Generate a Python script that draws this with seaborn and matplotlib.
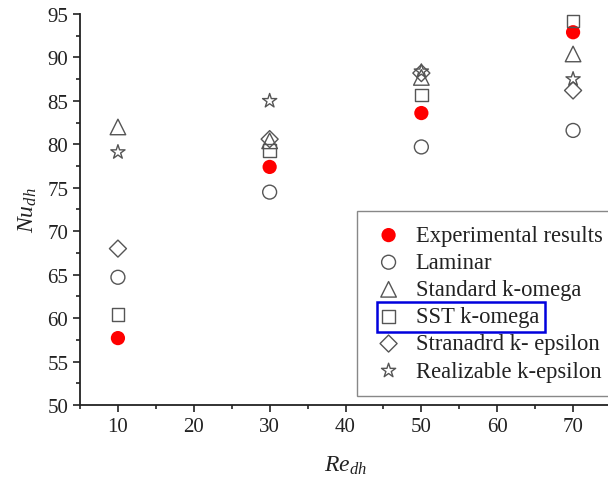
import matplotlib
matplotlib.use("Agg")
import matplotlib.pyplot as plt
import seaborn as sns
import pandas as pd
from matplotlib.patches import Rectangle
from matplotlib.ticker import MultipleLocator

re_dh = [10, 30, 50, 70]
experimental = [57.7, 77.4, 83.6, 92.9]
laminar = [64.7, 74.5, 79.7, 81.6]
standard_k_omega = [82.0, 80.4, 87.7, 90.4]
sst_k_omega = [60.4, 79.3, 85.7, 94.2]
standard_k_epsilon = [68.0, 80.6, 88.2, 86.2]
realizable_k_epsilon = [79.1, 85.0, 88.4, 87.5]

series_names = ["Experimental results", "Laminar", "Standard k-omega",
                "SST k-omega", "Stranadrd k- epsilon", "Realizable k-epsilon"]
series_values = [experimental, laminar, standard_k_omega, sst_k_omega,
                 standard_k_epsilon, realizable_k_epsilon]
markers = ["o", "o", "^", "s", "D", "*"]
sizes = [105, 100, 125, 80, 75, 115]

sns.set_style("ticks")
plt.rcParams['font.family'] = ['Liberation Serif', 'DejaVu Serif']
plt.rcParams['mathtext.fontset'] = 'custom'
plt.rcParams['mathtext.rm'] = 'Liberation Serif'
plt.rcParams['mathtext.it'] = 'Liberation Serif:italic'

fig = plt.figure(figsize=(6.08, 4.81), dpi=100)
ax = fig.add_axes([80/608, 1-406/481, 531/608, (406-15)/481])

edge = "#555555"
for name, vals, m, s in zip(series_names, series_values, markers, sizes):
    df = pd.DataFrame({"x": re_dh, "y": vals})
    if name == "Experimental results":
        sns.scatterplot(data=df, x="x", y="y", marker=m, s=s, color="#ff0000",
                        edgecolor="none", linewidth=0, ax=ax, label=name, zorder=3)
    else:
        sns.scatterplot(data=df, x="x", y="y", marker=m, s=s, facecolors="none",
                        edgecolor=edge, linewidth=1.0, ax=ax, label=name, zorder=3)

ax.set_xlim(5, 75)
ax.set_ylim(50, 95)
ax.xaxis.set_major_locator(MultipleLocator(10))
ax.xaxis.set_minor_locator(MultipleLocator(5))
ax.yaxis.set_major_locator(MultipleLocator(5))
ax.yaxis.set_minor_locator(MultipleLocator(2.5))
ax.tick_params(which="major", direction="out", length=5, width=1.2, labelsize=15,
               color="#222222", labelcolor="#222222")
ax.tick_params(which="minor", direction="out", length=3, width=1.2, color="#222222")
for sp in ["top", "right"]:
    ax.spines[sp].set_visible(False)
for sp in ["left", "bottom"]:
    ax.spines[sp].set_linewidth(1.3)
    ax.spines[sp].set_color("#222222")

ax.set_xlabel(r"$Re_{dh}$", fontsize=17, labelpad=13, color="#222222")
ax.set_ylabel(r"$Nu_{dh}$", fontsize=17, labelpad=6, color="#222222")

leg = ax.legend(loc="upper left", bbox_to_anchor=(357/608, 1-212/481),
                bbox_transform=fig.transFigure, fontsize=16.3, frameon=True,
                fancybox=False, edgecolor="#888888", framealpha=1,
                handletextpad=0.42, labelspacing=0.27, borderpad=0.62,
                handlelength=1.55, borderaxespad=0)
leg.get_frame().set_linewidth(1.0)
for t in leg.get_texts():
    t.set_color("#222222")

fig.canvas.draw()
renderer = fig.canvas.get_renderer()
txt = leg.get_texts()[3]
tb = txt.get_window_extent(renderer)
x0 = 377
x1 = tb.x1 + 6
y0 = tb.y0 - 5
y1 = tb.y1 + 4
rect = Rectangle((x0/608, y0/481), (x1 - x0)/608, (y1 - y0)/481,
                 transform=fig.transFigure, fill=False, edgecolor="#0000dd",
                 linewidth=1.8, zorder=10)
fig.add_artist(rect)

fig.savefig("out.png", dpi=100)
